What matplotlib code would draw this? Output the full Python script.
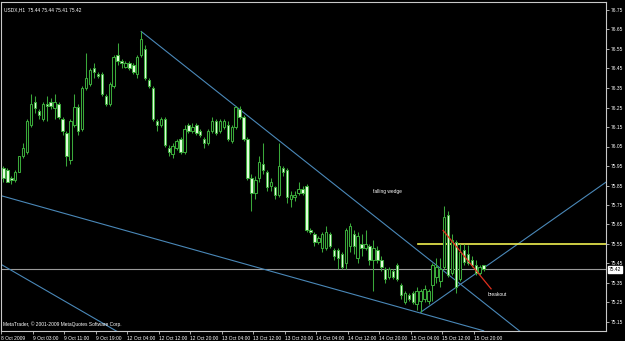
import matplotlib
matplotlib.use("Agg")
import matplotlib.pyplot as plt
import numpy as np

plt.rcParams["font.family"] = ["Liberation Sans", "DejaVu Sans"]

# USDX H1 candles (open, high, low, close)
opens = [75.94, 75.93, 75.89, 75.88, 75.92, 76.00, 76.02, 76.16, 76.28, 76.23,
         76.19, 76.27, 76.28, 76.25, 76.27, 76.19, 76.12, 75.98, 76.16, 76.25,
         76.14, 76.35, 76.37, 76.45, 76.42, 76.42, 76.31, 76.27, 76.36, 76.52,
         76.49, 76.46, 76.48, 76.47, 76.42, 76.52, 76.55, 76.39, 76.35, 76.18,
         76.16, 76.19, 76.04, 76.01, 76.04, 76.09, 76.02, 76.16, 76.13, 76.16,
         76.13, 76.09, 76.07, 76.13, 76.18, 76.13, 76.15, 76.16, 76.08, 76.15,
         76.24, 76.20, 76.09, 75.89, 75.81, 75.89, 75.96, 75.92, 75.85, 75.84,
         75.80, 75.94, 75.93, 75.78, 75.79, 75.81, 75.83, 75.85, 75.62, 75.60,
         75.56, 75.53, 75.53, 75.60, 75.52, 75.52, 75.50, 75.45, 75.54, 75.60,
         75.48, 75.55, 75.53, 75.54, 75.47, 75.52, 75.47, 75.42, 75.38, 75.41,
         75.44, 75.34, 75.25, 75.29, 75.30, 75.24, 75.26, 75.27, 75.26, 75.34,
         75.38, 75.36, 75.43, 75.70, 75.40, 75.56, 75.37, 75.52, 75.50, 75.47,
         75.44, 75.40, 75.44]
highs = [75.95, 75.94, 75.90, 75.93, 76.00, 76.07, 76.19, 76.32, 76.31, 76.24,
         76.28, 76.31, 76.30, 76.32, 76.28, 76.20, 76.13, 76.19, 76.32, 76.27,
         76.36, 76.53, 76.45, 76.48, 76.43, 76.43, 76.32, 76.38, 76.52, 76.58,
         76.50, 76.49, 76.49, 76.48, 76.52, 76.64, 76.57, 76.40, 76.36, 76.19,
         76.20, 76.20, 76.06, 76.07, 76.09, 76.10, 76.16, 76.17, 76.17, 76.17,
         76.14, 76.10, 76.14, 76.20, 76.19, 76.19, 76.19, 76.18, 76.16, 76.26,
         76.26, 76.21, 76.10, 75.91, 75.90, 76.00, 76.07, 75.93, 75.89, 75.85,
         76.07, 75.95, 75.94, 75.82, 75.82, 75.87, 75.85, 75.86, 75.63, 75.61,
         75.59, 75.61, 75.64, 75.61, 75.53, 75.53, 75.51, 75.63, 75.66, 75.62,
         75.61, 75.60, 75.62, 75.55, 75.57, 75.54, 75.49, 75.43, 75.43, 75.42,
         75.45, 75.35, 75.31, 75.30, 75.31, 75.33, 75.32, 75.34, 75.32, 75.45,
         75.48, 75.48, 75.745, 75.72, 75.60, 75.57, 75.55, 75.55, 75.545, 75.49,
         75.47, 75.44, 75.44]
lows = [75.87, 75.87, 75.86, 75.87, 75.92, 75.99, 76.01, 76.15, 76.22, 76.19,
        76.18, 76.18, 76.24, 76.19, 76.19, 76.11, 75.95, 75.96, 76.15, 76.11,
        76.13, 76.34, 76.36, 76.40, 76.40, 76.31, 76.26, 76.26, 76.35, 76.47,
        76.45, 76.45, 76.44, 76.42, 76.40, 76.51, 76.39, 76.35, 76.18, 76.13,
        76.15, 76.05, 76.00, 75.99, 76.03, 76.01, 76.01, 76.12, 76.12, 76.11,
        76.10, 76.04, 76.06, 76.12, 76.11, 76.12, 76.14, 76.08, 76.07, 76.14,
        76.19, 76.08, 75.88, 75.72, 75.78, 75.87, 75.91, 75.82, 75.82, 75.78,
        75.79, 75.90, 75.76, 75.74, 75.77, 75.80, 75.80, 75.61, 75.60, 75.54,
        75.55, 75.51, 75.52, 75.53, 75.47, 75.42, 75.42, 75.42, 75.51, 75.50,
        75.45, 75.49, 75.52, 75.44, 75.31, 75.45, 75.41, 75.35, 75.37, 75.37,
        75.36, 75.27, 75.24, 75.26, 75.24, 75.21, 75.20, 75.25, 75.24, 75.26,
        75.35, 75.33, 75.42, 75.38, 75.39, 75.30, 75.36, 75.44, 75.44, 75.43,
        75.39, 75.39, 75.41]
closes = [75.89, 75.87, 75.88, 75.92, 76.00, 76.04, 76.18, 76.27, 76.25, 76.21,
          76.27, 76.26, 76.26, 76.28, 76.20, 76.13, 76.00, 76.18, 76.25, 76.13,
          76.35, 76.40, 76.44, 76.43, 76.41, 76.32, 76.27, 76.37, 76.51, 76.49,
          76.48, 76.48, 76.45, 76.43, 76.51, 76.60, 76.40, 76.36, 76.19, 76.16,
          76.19, 76.06, 76.02, 76.05, 76.08, 76.02, 76.14, 76.13, 76.15, 76.12,
          76.11, 76.07, 76.13, 76.18, 76.12, 76.18, 76.18, 76.09, 76.15, 76.25,
          76.20, 76.09, 75.89, 75.81, 75.88, 75.97, 75.93, 75.84, 75.87, 75.80,
          75.95, 75.92, 75.79, 75.80, 75.80, 75.83, 75.81, 75.62, 75.61, 75.56,
          75.58, 75.60, 75.61, 75.54, 75.49, 75.48, 75.43, 75.62, 75.64, 75.54,
          75.59, 75.53, 75.55, 75.47, 75.53, 75.47, 75.43, 75.37, 75.42, 75.38,
          75.37, 75.29, 75.30, 75.27, 75.25, 75.31, 75.31, 75.32, 75.31, 75.44,
          75.43, 75.42, 75.69, 75.39, 75.57, 75.33, 75.51, 75.46, 75.45, 75.44,
          75.40, 75.43, 75.42]

time_labels = ["8 Oct 2009", "9 Oct 03:00", "9 Oct 11:00", "9 Oct 19:00",
               "12 Oct 04:00", "12 Oct 12:00", "12 Oct 20:00", "13 Oct 04:00",
               "13 Oct 12:00", "13 Oct 20:00", "14 Oct 04:00", "14 Oct 12:00",
               "14 Oct 20:00", "15 Oct 04:00", "15 Oct 12:00", "15 Oct 20:00"]
price_ticks = [76.75, 76.65, 76.55, 76.45, 76.35, 76.25, 76.15, 76.05, 75.95,
               75.85, 75.75, 75.65, 75.55, 75.45, 75.35, 75.25, 75.15]
bid = 75.42
resistance = 75.55

# trend lines as (bar, price) pairs
upper_line = [(35, 76.64), (132, 75.09)]
lower_line = [(-1, 75.80), (122, 75.105)]
extra_line = [(-1, 75.45), (29, 75.10)]
rise_line = [(106, 75.20), (154, 75.88)]
break_line = [(111.7, 75.62), (123.9, 75.32)]

bg = "black"
green = "#3aa83a"
bear_fill = "#e6ffe0"
blue = "#4a88b8"
fs = 3.5

fig = plt.figure(figsize=(6.25, 3.41), dpi=100, facecolor=bg)
ax = fig.add_axes([1.5 / 625, 1 - 331 / 341, 604.5 / 625, 329 / 341])
ax.set_facecolor(bg)

n = len(opens)
idx = np.arange(n)
o = np.array(opens); h = np.array(highs); l = np.array(lows); c = np.array(closes)
ax.vlines(idx, l, h, color=green, lw=0.75, zorder=3)
up = c >= o
body_lo = np.minimum(o, c)
body_h = np.maximum(np.abs(c - o), 0.004)
ax.bar(idx[up], body_h[up], bottom=body_lo[up], width=0.62,
       color=bg, edgecolor=green, linewidth=0.75, zorder=4)
ax.bar(idx[~up], body_h[~up], bottom=body_lo[~up], width=0.62,
       color=bear_fill, edgecolor=green, linewidth=0.75, zorder=4)

for line in (upper_line, lower_line, extra_line, rise_line):
    xs, ys = zip(*line)
    ax.plot(xs, ys, color=blue, lw=0.8, zorder=2)
xs, ys = zip(*break_line)
ax.plot(xs, ys, color="#e0301e", lw=0.9, zorder=5)

ax.axhline(bid, color="#9a9a9a", lw=0.8, zorder=1)
ax.plot([105.4, 160], [resistance, resistance], color="#f0f050", lw=1.2, zorder=2)

ax.text(94, 75.82, "falling wedge", color="white", fontsize=fs, va="center")
ax.text(122.9, 75.29, "breakout", color="white", fontsize=fs, va="center")
ax.text(0.004, 0.985, "USDX,H1  75.44 75.44 75.41 75.42", transform=ax.transAxes,
        color="white", fontsize=fs, va="top")
ax.text(0.003, 0.012, "MetaTrader, \u00a9 2001-2009 MetaQuotes Software Corp.",
        transform=ax.transAxes, color="white", fontsize=fs, va="bottom")

ax.set_xlim(-0.3, 153.1)
ax.set_ylim(76.75 - 321 / 195, 76.75 + 8 / 195)

ax.yaxis.tick_right()
ax.set_yticks(price_ticks)
ax.set_yticklabels([f"{p:.2f}" for p in price_ticks])
ax.set_xticks([8 * k - 0.5 for k in range(len(time_labels))])
ax.set_xticklabels(time_labels, ha="left")
ax.tick_params(axis="both", colors="#c8c8c8", labelcolor="white", labelsize=fs,
               length=2.2, width=0.6, direction="out", pad=1.2)
for sp in ("top", "bottom", "left", "right"):
    ax.spines[sp].set_color("#c8c8c8")
    ax.spines[sp].set_linewidth(0.8)

ax.annotate(f"{bid:.2f}", xy=(1.0, bid), xycoords=("axes fraction", "data"),
            xytext=(2, 0), textcoords="offset points", va="center",
            fontsize=fs, color="black",
            bbox=dict(boxstyle="square,pad=0.15", fc="white", ec="white"))

fig.savefig("out.png", dpi=100, facecolor=bg)
